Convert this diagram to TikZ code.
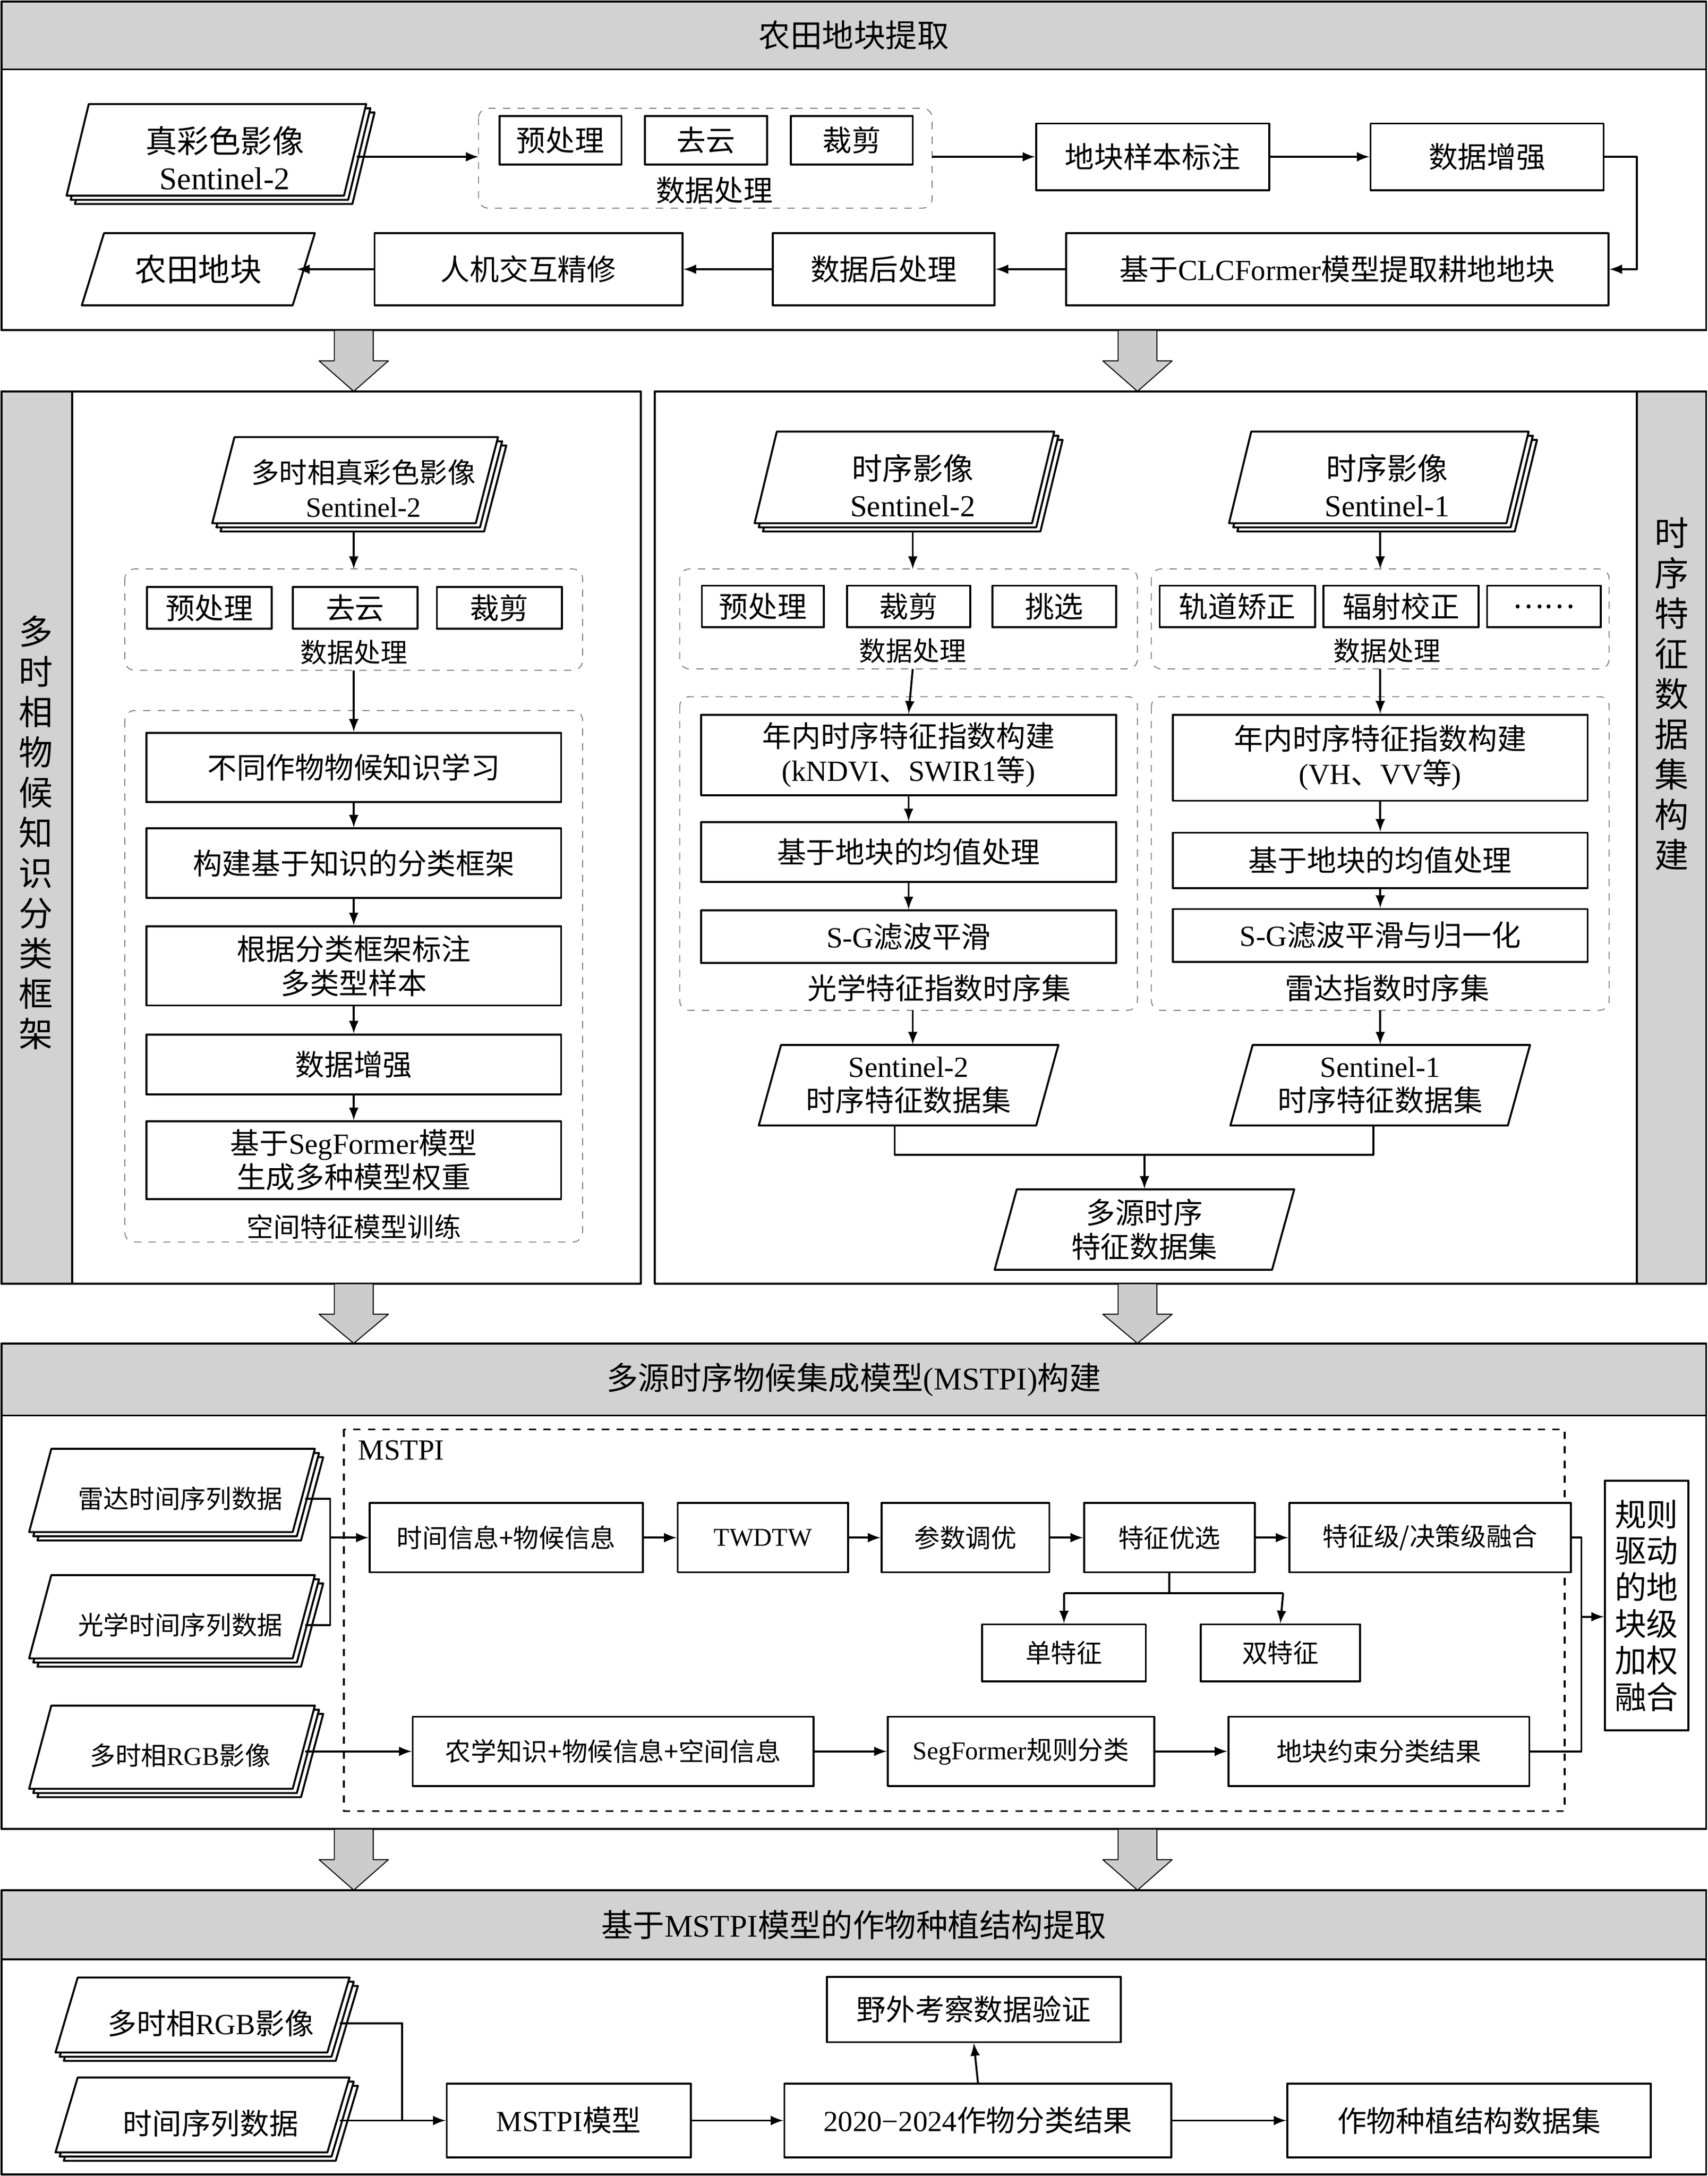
\documentclass[tikz,border=0pt]{standalone}
\usepackage{fontspec}
\setmainfont{Noto Sans CJK SC}
\newfontfamily\lat{Liberation Serif}
\usetikzlibrary{positioning,calc}
\tikzset{
  box/.style={draw, thick, fill=white, inner sep=1pt, align=center, font=\fontsize{12}{13}\selectfont},
  sbox/.style={box, font=\fontsize{10.5}{12}\selectfont},
  grp/.style={draw, gray, dashed, rounded corners=4pt},
  hdr/.style={draw, thick, fill=gray!35},
  arr/.style={thick, -latex},
  lbl/.style={font=\fontsize{11}{12}\selectfont},
}
% doc: [font], name, cx, cy, half width, half height, text, copies
\newcommand\docshape[8][\fontsize{12}{14}\selectfont]{%
  \foreach \k in {#8,...,0}{%
    \draw[thick, fill=white] ($(#3,#4)+(3*\k,3*\k)+(-#5+8,-#6)$) -- ++(2*#5,0) -- ++(-16,2*#6) -- ++(-2*#5,0) -- cycle;}
  \node[align=center, inner sep=0pt, font=#1, minimum width=2*#5*0.02cm-6pt, minimum height=2*#6*0.02cm] (#2) at ($(#3,#4)+(3*#8,3*#8)$) {#7};}
\newcommand\downarr[3]{% x, top, bottom
  \draw[fill=gray!40] (#1-14,#2) -- (#1+14,#2) -- (#1+14,#2+22) -- (#1+25,#2+22) -- (#1,#3) -- (#1-25,#2+22) -- (#1-14,#2+22) -- cycle;}
\begin{document}
\begin{tikzpicture}[x=0.02cm, y=-0.02cm, line join=round]
\useasboundingbox (0,0) rectangle (1231,1568);
% ---- section 1
\draw[hdr] (1,1) rectangle (1230,50) node[midway, font=\fontsize{13}{14}\selectfont] {农田地块提取};
\draw[thick] (1,50) rectangle (1230,238);
\docshape[\fontsize{13}{15}\selectfont]{img}{156}{108}{100}{33}{真彩色影像\\{\lat Sentinel-2}}{2}
\draw[grp] (345,78) rectangle (672,150);
\node[box, minimum width=88*0.02cm, minimum height=35*0.02cm] (pre) at (404,101) {预处理};
\node[box, minimum width=88*0.02cm, minimum height=35*0.02cm] (cld) at (509,101) {去云};
\node[box, minimum width=88*0.02cm, minimum height=35*0.02cm] (cut) at (614,101) {裁剪};
\node[lbl, font=\fontsize{12}{13}\selectfont] at (515,137) {数据处理};
\coordinate (g1w) at (345,113); \coordinate (g1e) at (672,113);
\node[box, minimum width=168*0.02cm, minimum height=48*0.02cm] (mark) at (831,113) {地块样本标注};
\node[box, minimum width=168*0.02cm, minimum height=48*0.02cm] (aug) at (1072,113) {数据增强};
\node[box, minimum width=391*0.02cm, minimum height=52*0.02cm] (clc) at (964,194) {基于{\lat CLCFormer}模型提取耕地地块};
\node[box, minimum width=160*0.02cm, minimum height=52*0.02cm] (post) at (637,194) {数据后处理};
\node[box, minimum width=222*0.02cm, minimum height=52*0.02cm] (hci) at (381,194) {人机交互精修};
\docshape[\fontsize{13}{15}\selectfont]{farm}{143}{194}{76}{26}{农田地块}{0}
\draw[arr] (img.east |- g1w) -- (g1w);
\draw[arr] (g1e) -- (mark);
\draw[arr] (mark) -- (aug);
\draw[arr] (aug.east) -| (1180,194) -- (clc.east);
\draw[arr] (clc) -- (post);
\draw[arr] (post) -- (hci);
\draw[arr] (hci) -- (farm.east);
\downarr{255}{238}{282}
\downarr{820}{238}{282}
% ---- section 2 left
\draw[thick] (1,282) rectangle (462,925);
\draw[hdr] (1,282) rectangle (52,925);
\node[align=center, font=\fontsize{14}{16.5}\selectfont] at (26,600) {多\\时\\相\\物\\候\\知\\识\\分\\类\\框\\架};
\docshape[\fontsize{11.5}{14}\selectfont]{mimg}{256}{346}{95}{31}{多时相真彩色影像\\{\lat Sentinel-2}}{2}
\draw[grp] (90,410) rectangle (420,483);
\node[box, minimum width=90*0.02cm, minimum height=30*0.02cm] (lpre) at (151,438) {预处理};
\node[box, minimum width=90*0.02cm, minimum height=30*0.02cm] (lcld) at (256,438) {去云};
\node[box, minimum width=90*0.02cm, minimum height=30*0.02cm] (lcut) at (360,438) {裁剪};
\node[lbl] (lproc) at (255,470) {数据处理};
\draw[grp] (90,512) rectangle (420,895);
\node[box, minimum width=299*0.02cm, minimum height=50*0.02cm] (learn) at (255,553) {不同作物物候知识学习};
\node[box, minimum width=299*0.02cm, minimum height=50*0.02cm] (frame) at (255,622) {构建基于知识的分类框架};
\node[box, minimum width=299*0.02cm, minimum height=57*0.02cm, font=\fontsize{12}{14}\selectfont] (samp) at (255,696) {根据分类框架标注\\多类型样本};
\node[box, minimum width=299*0.02cm, minimum height=43*0.02cm] (laug) at (255,767) {数据增强};
\node[box, minimum width=299*0.02cm, minimum height=56*0.02cm, font=\fontsize{12}{14}\selectfont] (seg) at (255,836) {基于{\lat SegFormer}模型\\生成多种模型权重};
\node[lbl] at (255,884) {空间特征模型训练};
\draw[arr] (255,410 |- mimg.south) -- (255,410);
\draw[arr] (255,483) -- (learn.north);
\draw[arr] (learn) -- (frame);
\draw[arr] (frame) -- (samp);
\draw[arr] (samp) -- (laug);
\draw[arr] (laug) -- (seg);
% ---- section 2 right
\draw[thick] (472,282) rectangle (1230,925);
\draw[hdr] (1180,282) rectangle (1230,925);
\node[align=center, font=\fontsize{14}{16.5}\selectfont] at (1205,500) {时\\序\\特\\征\\数\\据\\集\\构\\建};
\docshape[\fontsize{12.5}{15}\selectfont]{sa}{652}{344}{100}{33}{时序影像\\{\lat Sentinel-2}}{2}
\docshape[\fontsize{12.5}{15}\selectfont]{sb}{994}{344}{100}{33}{时序影像\\{\lat Sentinel-1}}{2}
\draw[grp] (490,410) rectangle (820,482);
\node[box, minimum width=88*0.02cm, minimum height=30*0.02cm] (spre) at (550,437) {预处理};
\node[box, minimum width=89*0.02cm, minimum height=30*0.02cm] (scut) at (655,437) {裁剪};
\node[box, minimum width=89*0.02cm, minimum height=30*0.02cm] (ssel) at (760,437) {挑选};
\node[lbl] at (658,469) {数据处理};
\draw[grp] (830,410) rectangle (1160,482);
\node[box, minimum width=112*0.02cm, minimum height=30*0.02cm] (orb) at (892,437) {轨道矫正};
\node[box, minimum width=112*0.02cm, minimum height=30*0.02cm] (rad) at (1010,437) {辐射校正};
\node[box, minimum width=82*0.02cm, minimum height=30*0.02cm] (etc) at (1113,437) {……};
\node[lbl] at (1000,469) {数据处理};
\draw[grp] (490,502) rectangle (820,728);
\node[box, minimum width=299*0.02cm, minimum height=58*0.02cm, font=\fontsize{12}{14}\selectfont] (oidx) at (655,544) {年内时序特征指数构建\\{\lat (kNDVI}、{\lat SWIR1}等{\lat )}};
\node[box, minimum width=299*0.02cm, minimum height=43*0.02cm] (omean) at (655,614) {基于地块的均值处理};
\node[box, minimum width=299*0.02cm, minimum height=38*0.02cm] (osg) at (655,675) {{\lat S-G}滤波平滑};
\node[lbl, font=\fontsize{12}{13}\selectfont] at (677,712) {光学特征指数时序集};
\draw[grp] (830,502) rectangle (1160,728);
\node[box, minimum width=299*0.02cm, minimum height=62*0.02cm, font=\fontsize{12}{14}\selectfont] (ridx) at (995,546) {年内时序特征指数构建\\{\lat (VH}、{\lat VV}等{\lat )}};
\node[box, minimum width=299*0.02cm, minimum height=40*0.02cm] (rmean) at (995,620) {基于地块的均值处理};
\node[box, minimum width=299*0.02cm, minimum height=38*0.02cm] (rsg) at (995,674) {{\lat S-G}滤波平滑与归一化};
\node[lbl, font=\fontsize{12}{13}\selectfont] at (1000,712) {雷达指数时序集};
\docshape{os}{655}{782}{100}{29}{{\lat Sentinel-2}\\时序特征数据集}{0}
\docshape{rs}{995}{782}{100}{29}{{\lat Sentinel-1}\\时序特征数据集}{0}
\docshape{ms}{825}{886}{100}{29}{多源时序\\特征数据集}{0}
\draw[arr] (658,410 |- sa.south) -- (658,410);
\draw[arr] (995,410 |- sb.south) -- (995,410);
\draw[arr] (658,482) -- (oidx.north);
\draw[arr] (995,482) -- (ridx.north);
\draw[arr] (oidx) -- (omean); \draw[arr] (omean) -- (osg);
\draw[arr] (ridx) -- (rmean); \draw[arr] (rmean) -- (rsg);
\draw[arr] (658,728) -- (658,728 |- os.north);
\draw[arr] (995,728) -- (995,728 |- rs.north);
\draw[thick] (645,832 |- os.south) -- (645,832) -- (990,832) -- (990,832 |- rs.south);
\draw[arr] (825,832) -- (ms.north);
\downarr{255}{925}{968}
\downarr{820}{925}{968}
% ---- section 3
\draw[hdr] (1,968) rectangle (1230,1020) node[midway, font=\fontsize{13}{14}\selectfont] {多源时序物候集成模型{\lat (MSTPI)}构建};
\draw[thick] (1,1020) rectangle (1230,1318);
\draw[thick, dashed] (248,1030) rectangle (1128,1305);
\node[font=\fontsize{12}{13}\selectfont\lat, anchor=west] at (252,1045) {MSTPI};
\docshape[\fontsize{10.5}{12}\selectfont]{radar}{124}{1074}{95}{30}{雷达时间序列数据}{2}
\docshape[\fontsize{10.5}{12}\selectfont]{opt}{124}{1165}{95}{30}{光学时间序列数据}{2}
\docshape[\fontsize{10.5}{12}\selectfont]{rgb}{124}{1259}{95}{30}{多时相{\lat RGB}影像}{2}
\node[sbox, minimum width=197*0.02cm, minimum height=50*0.02cm] (tp) at (365,1108) {时间信息+物候信息};
\node[sbox, minimum width=123*0.02cm, minimum height=50*0.02cm, font=\fontsize{10.5}{12}\selectfont\lat] (tw) at (550,1108) {TWDTW};
\node[sbox, minimum width=121*0.02cm, minimum height=50*0.02cm] (tune) at (696,1108) {参数调优};
\node[sbox, minimum width=123*0.02cm, minimum height=50*0.02cm] (sel) at (843,1108) {特征优选};
\node[sbox, minimum width=203*0.02cm, minimum height=50*0.02cm] (fuse) at (1031,1108) {特征级/决策级融合};
\node[sbox, minimum width=118*0.02cm, minimum height=41*0.02cm] (one) at (767,1191) {单特征};
\node[sbox, minimum width=115*0.02cm, minimum height=41*0.02cm] (two) at (923,1191) {双特征};
\node[sbox, minimum width=289*0.02cm, minimum height=50*0.02cm] (agro) at (442,1262) {农学知识+物候信息+空间信息};
\node[sbox, minimum width=192*0.02cm, minimum height=50*0.02cm] (sfr) at (736,1262) {{\lat SegFormer}规则分类};
\node[sbox, minimum width=217*0.02cm, minimum height=50*0.02cm] (cons) at (994,1262) {地块约束分类结果};
\node[box, minimum width=60*0.02cm, minimum height=180*0.02cm, font=\fontsize{13}{15}\selectfont] (rule) at (1187,1157) {规则\\驱动\\的地\\块级\\加权\\融合};
\draw[thick] (radar.east) -- (238,0 |- radar.east) -- (238,0 |- opt.east) -- (opt.east);
\draw[arr] (238,1108) -- (tp.west);
\draw[arr] (tp) -- (tw); \draw[arr] (tw) -- (tune);
\draw[arr] (tune) -- (sel); \draw[arr] (sel) -- (fuse);
\draw[thick] (sel.south) -- (843,1148);
\draw[arr] (767,1148) -- (one.north);
\draw[arr] (925,1148) -- (two.north);
\draw[thick] (767,1148) -- (925,1148);
\draw[arr] (rgb.east |- agro.west) -- (agro.west);
\draw[arr] (agro) -- (sfr); \draw[arr] (sfr) -- (cons);
\draw[thick] (fuse.east) -- (1140,1108) -- (1140,1262) -- (cons.east);
\draw[arr] (1140,1165) -- (1140,1165 -| rule.west);
\downarr{255}{1318}{1362}
\downarr{820}{1318}{1362}
% ---- section 4
\draw[hdr] (1,1362) rectangle (1230,1412) node[midway, font=\fontsize{13}{14}\selectfont] {基于{\lat MSTPI}模型的作物种植结构提取};
\draw[thick] (1,1412) rectangle (1230,1567);
\docshape{rgb2}{146}{1452}{98}{27}{多时相{\lat RGB}影像}{2}
\docshape{ts}{146}{1524}{98}{27}{时间序列数据}{2}
\node[box, minimum width=176*0.02cm, minimum height=53*0.02cm] (model) at (410,1528) {{\lat MSTPI}模型};
\node[box, minimum width=279*0.02cm, minimum height=53*0.02cm] (res) at (705,1528) {{\lat 2020−2024}作物分类结果};
\node[box, minimum width=262*0.02cm, minimum height=53*0.02cm] (ds) at (1059,1528) {作物种植结构数据集};
\node[box, minimum width=212*0.02cm, minimum height=47*0.02cm] (field) at (702,1448) {野外考察数据验证};
\draw[thick] (rgb2.east) -- (290,0 |- rgb2.east) -- (290,0 |- model.west);
\draw[arr] (ts.east |- model.west) -- (model.west);
\draw[arr] (model) -- (res); \draw[arr] (res) -- (ds);
\draw[arr] (res.north) -- (field.south);
\end{tikzpicture}
\end{document}
